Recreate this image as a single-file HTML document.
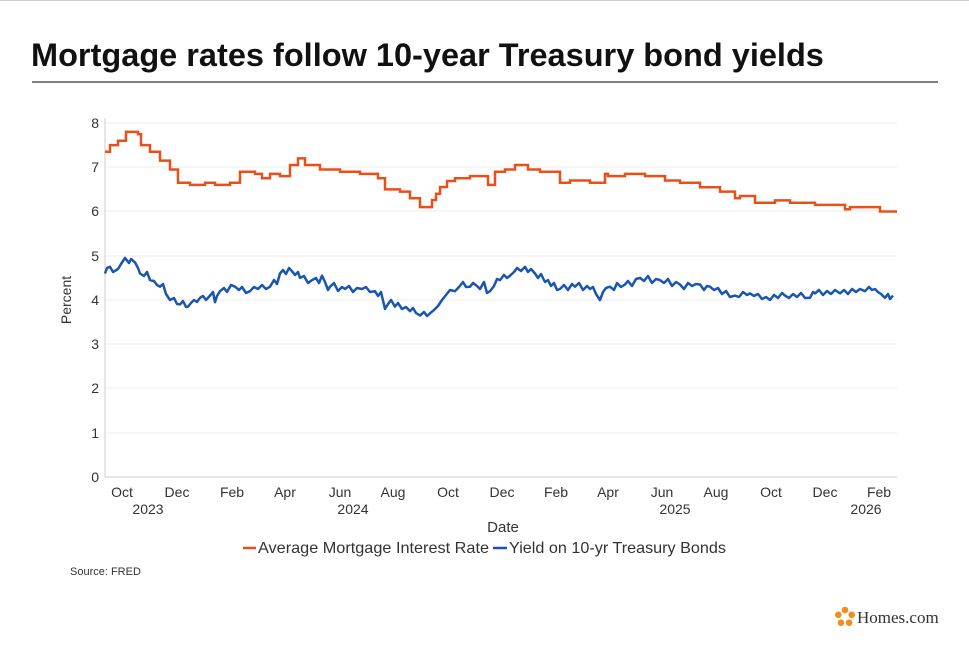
<!DOCTYPE html>
<html><head><meta charset="utf-8"><style>
body{margin:0;background:#fff;width:969px;height:644px;overflow:hidden;font-family:"Liberation Sans",sans-serif}
</style></head><body>
<svg width="969" height="644" xmlns="http://www.w3.org/2000/svg" font-family="Liberation Sans, sans-serif">
<line x1="0" y1="0.5" x2="969" y2="0.5" stroke="#ccc"/>
<text x="31" y="66" font-size="32.5" font-weight="bold" fill="#111">Mortgage rates follow 10-year Treasury bond yields</text>
<line x1="32" y1="82" x2="938" y2="82" stroke="#555" stroke-width="1.5"/>
<g stroke="#eee" stroke-width="1">
<line x1="105" y1="123" x2="897" y2="123"/><line x1="105" y1="167" x2="897" y2="167"/><line x1="105" y1="211" x2="897" y2="211"/><line x1="105" y1="256" x2="897" y2="256"/><line x1="105" y1="300" x2="897" y2="300"/><line x1="105" y1="344" x2="897" y2="344"/><line x1="105" y1="388" x2="897" y2="388"/><line x1="105" y1="433" x2="897" y2="433"/>
</g>
<line x1="105" y1="118" x2="105" y2="477" stroke="#ccc"/>
<line x1="105" y1="477" x2="897" y2="477" stroke="#ccc"/>
<g font-size="14" fill="#333" text-anchor="end">
<text x="99" y="128">8</text><text x="99" y="172">7</text><text x="99" y="216">6</text><text x="99" y="261">5</text><text x="99" y="305">4</text><text x="99" y="349">3</text><text x="99" y="393">2</text><text x="99" y="438">1</text><text x="99" y="482">0</text>
</g>
<text transform="translate(71,300) rotate(-90)" font-size="14" fill="#333" text-anchor="middle">Percent</text>
<g font-size="14" fill="#333" text-anchor="middle">
<text x="122" y="497">Oct</text><text x="177" y="497">Dec</text><text x="232" y="497">Feb</text><text x="285" y="497">Apr</text><text x="340" y="497">Jun</text><text x="393" y="497">Aug</text><text x="448" y="497">Oct</text><text x="502" y="497">Dec</text><text x="556" y="497">Feb</text><text x="608" y="497">Apr</text><text x="662" y="497">Jun</text><text x="716" y="497">Aug</text><text x="771" y="497">Oct</text><text x="825" y="497">Dec</text><text x="879" y="497">Feb</text>
<text x="148" y="514">2023</text><text x="353" y="514">2024</text><text x="675" y="514">2025</text><text x="866" y="514">2026</text>
<text x="503" y="532" font-size="15">Date</text>
</g>
<path fill="none" stroke="#e8501a" stroke-width="2.5" d="M105,151.8 H110 V145.1 H118 V140.7 H126 V131.9 H138 V134.1 H141 V145.1 H150 V151.8 H160 V160.6 H170 V169.5 H178 V182.7 H190 V184.9 H205 V182.7 H215 V184.9 H230 V182.7 H240 V171.7 H255 V173.9 H262 V178.3 H270 V173.9 H280 V176.1 H290 V165 H298 V158.4 H305 V165 H320 V169.5 H340 V171.7 H360 V173.9 H378 V178.3 H385 V189.4 H400 V191.6 H410 V198.2 H420 V207.1 H432 V200 H436 V193.8 H440 V187 H447 V181 H455 V178.3 H470 V176.1 H488 V184.9 H495 V171.7 H505 V169.5 H515 V165 H528 V169.5 H540 V171.7 H560 V182.7 H570 V180.5 H590 V182.7 H605 V173.9 H608 V176.1 H625 V173.9 H645 V176.1 H665 V180.5 H680 V182.7 H700 V187.2 H720 V191.6 H735 V198.2 H740 V196 H755 V202.7 H775 V200.4 H790 V202.7 H815 V204.9 H845 V209.3 H850 V207.1 H880 V211.5 H897"/>
<polyline fill="none" stroke="#1a56b0" stroke-width="2.5" stroke-linejoin="round" points="105,273.5 107,268 110,266.8 113,272 118,269 121,264 125,258 129,263 131,259 135,262.4 138,268 140,273.5 144,276 147,272 150,280.1 154,281 157,285 160,286.7 163,284 166,294 170,300 174,298 177,304 180,304.4 183,301 186,307 188,306.6 191,303 194,300 197,302 200,297.8 203,296 206,300 210,295.6 213,292 215,302.2 217,296 220,291.2 224,288 227,292 231,285 235,286.7 239,290 242,287 246,293 250,291.2 254,287 258,289 262,285 266,289 270,286.7 274,280 277,284 280,273.5 283,270 286,274 289,268 292,271.2 295,275 298,272 300,277.9 304,276 308,283 312,280.1 316,278 319,283 322,275.7 325,282 328,290 330,286.7 334,283 338,291 342,287 345,289 349,286 353,292 357,288 362,289 366,287 370,292 375,291.2 378,296 381,292 385,308.9 388,304 391,300 395,306.6 398,303 402,309 406,307 410,311.1 413,308 416,313 420,315.5 424,312 427,316 430,313.3 434,310 438,306 442,300 446,295 450,290 455,291.2 459,287 463,282 466,287 470,286.7 473,283 477,286 480,289 484,282 487,293 490,291.2 494,286 497,279 500,280.1 504,275 507,278 510,275.7 514,272 517,268 521,271 525,266.8 528,272 531,269 535,273.5 538,278 541,274 545,282 548,280.1 551,286 554,283 557,290 560,289 564,285 568,290 572,284 575,286.7 579,283 583,290 587,286 590,289 593,287 596,294 600,300 603,292 606,288 610,286.7 614,290 617,283 621,287 625,284.5 628,281 632,286 636,279 640,277.9 644,281 648,276 652,283 656,279 660,280.1 664,283 668,279 672,286 676,282 680,284.5 684,289 688,283 692,286 696,284 700,284.5 704,290 707,286 710,286.7 714,290 718,288 722,294 726,291 730,297 735,295.6 739,297 743,292 747,295 750,293.4 754,296 758,294 762,299 766,297 770,300 774,295 778,298 782,293 785,295.6 789,298 793,294 797,297 801,293 805,298 810,297.8 813,292 815,293.4 819,290 823,295 827,291 831,294 835,290 840,293.4 844,290 848,294 852,289 856,292 860,289 865,291.2 869,287 872,290 875,289 878,292 881,294 885,297.8 888,294 890,299 893,295.6"/>
<line x1="243" y1="548" x2="256" y2="548" stroke="#e8501a" stroke-width="2.5"/>
<text x="258" y="553" font-size="16" fill="#333" textLength="231" lengthAdjust="spacingAndGlyphs">Average Mortgage Interest Rate</text>
<line x1="493" y1="548" x2="507" y2="548" stroke="#1a56b0" stroke-width="2.5"/>
<text x="509" y="553" font-size="16" fill="#333" textLength="217" lengthAdjust="spacingAndGlyphs">Yield on 10-yr Treasury Bonds</text>
<text x="70" y="575" font-size="11" fill="#333">Source: FRED</text>
<g transform="translate(845,617)" fill="#f28c1e">
<circle cx="0" cy="-7" r="3.3"/><circle cx="6.7" cy="-2.2" r="3.3"/><circle cx="4.1" cy="5.7" r="3.3"/><circle cx="-4.1" cy="5.7" r="3.3"/><circle cx="-6.7" cy="-2.2" r="3.3"/>
</g>
<text x="857" y="623" font-size="17" font-family="Liberation Serif, serif" fill="#333">Homes.com</text>
</svg>
</body></html>
